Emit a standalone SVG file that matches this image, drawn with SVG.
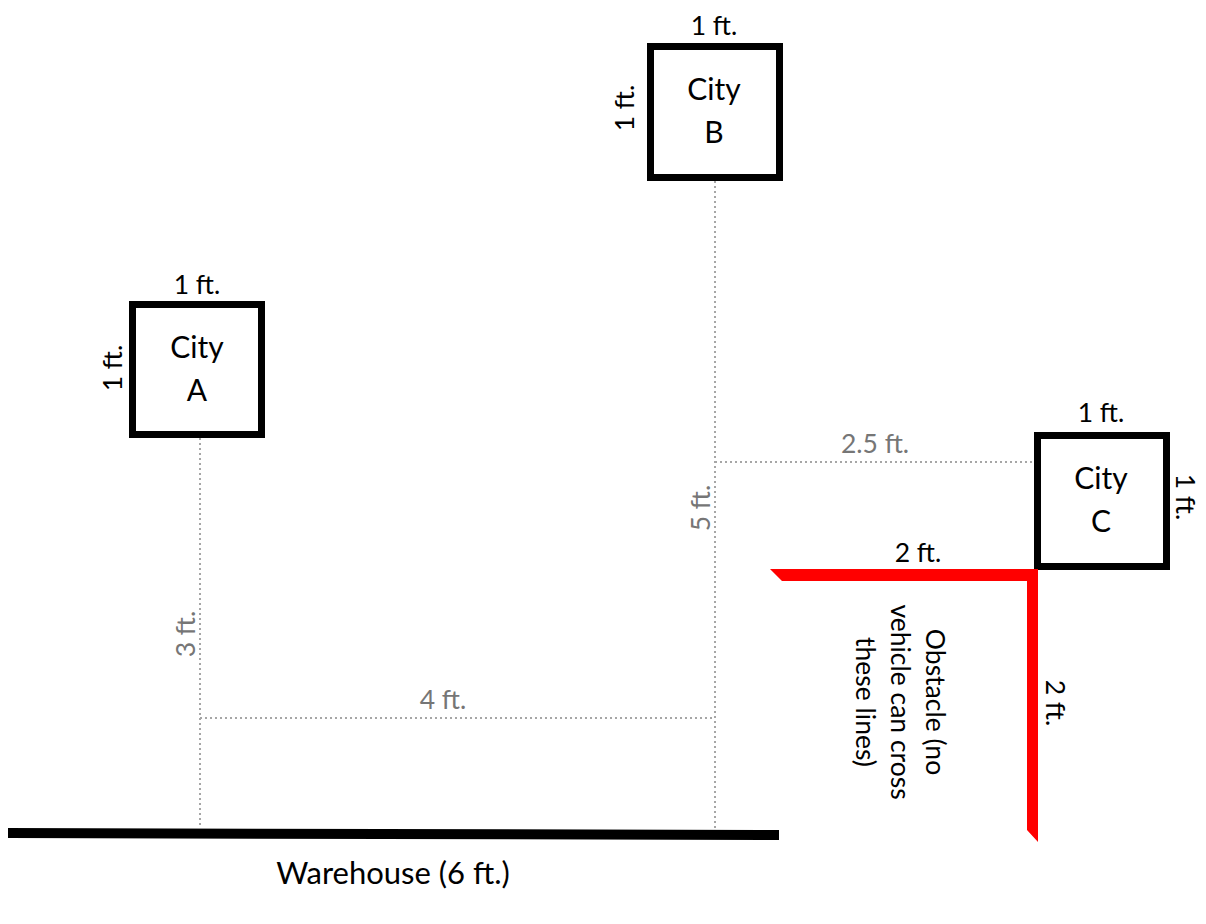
<svg xmlns="http://www.w3.org/2000/svg" width="1206" height="924" viewBox="0 0 1206 924">
<style>
.box{fill:#fff;stroke:#000;stroke-width:7}
.t{font-family:Lato,"Liberation Sans",sans-serif;fill:#000;text-anchor:middle;dominant-baseline:central}
.city{font-size:30px}
.ft{font-size:26.5px}
.g{fill:#767676}
.dot{stroke:#a6a6a6;stroke-width:2;stroke-dasharray:2 3;fill:none}
</style>
<rect width="1206" height="924" fill="#fff"/>
<g id="connectors">
<line class="dot" x1="200" y1="438" x2="200" y2="828"/>
<line class="dot" x1="715" y1="181" x2="715" y2="830"/>
<line class="dot" x1="200" y1="718" x2="715" y2="718"/>
<line class="dot" x1="715" y1="462" x2="1034" y2="462"/>
<text class="t ft g" x="443" y="699">4 ft.</text>
<text class="t ft g" x="875" y="443">2.5 ft.</text>
<text class="t ft g" transform="translate(700 508) rotate(-90)">5 ft.</text>
<text class="t ft g" transform="translate(185 634) rotate(-90)">3 ft.</text>
</g>
<g id="warehouse">
<polygon points="8,828 779,830 779,840 8,838" fill="#000"/>
<text class="t" style="font-size:31px" x="393" y="872">Warehouse (6 ft.)</text>
</g>
<g id="cityA">
<rect class="box" x="132.5" y="304.5" width="129" height="130"/>
<text class="t city" x="197" y="346">City</text>
<text class="t city" x="197" y="389">A</text>
<text class="t ft" x="197" y="284">1 ft.</text>
<text class="t ft" transform="translate(112 368) rotate(-90)">1 ft.</text>
</g>
<g id="cityB">
<rect class="box" x="650.5" y="46.5" width="129" height="131"/>
<text class="t city" x="714" y="88">City</text>
<text class="t city" x="714" y="131">B</text>
<text class="t ft" x="714" y="25">1 ft.</text>
<text class="t ft" transform="translate(624 108) rotate(-90)">1 ft.</text>
</g>
<g id="cityC">
<rect class="box" x="1037.5" y="435.5" width="129" height="131"/>
<text class="t city" x="1101" y="477">City</text>
<text class="t city" x="1101" y="520">C</text>
<text class="t ft" x="1101" y="412">1 ft.</text>
<text class="t ft" transform="translate(1186 497) rotate(90)">1 ft.</text>
</g>
<g id="obstacle">
<polygon points="770,569 1038,569 1038,842 1027,830 1027,581 782,581" fill="#ff0000"/>
<text class="t ft" x="918" y="552">2 ft.</text>
<text class="t ft" transform="translate(1056 703) rotate(90)">2 ft.</text>
<g transform="translate(901 702) rotate(90)">
<text class="t ft" x="0" y="-35">Obstacle (no</text>
<text class="t ft" x="0" y="0">vehicle can cross</text>
<text class="t ft" x="0" y="35">these lines)</text>
</g>
</g>
</svg>
